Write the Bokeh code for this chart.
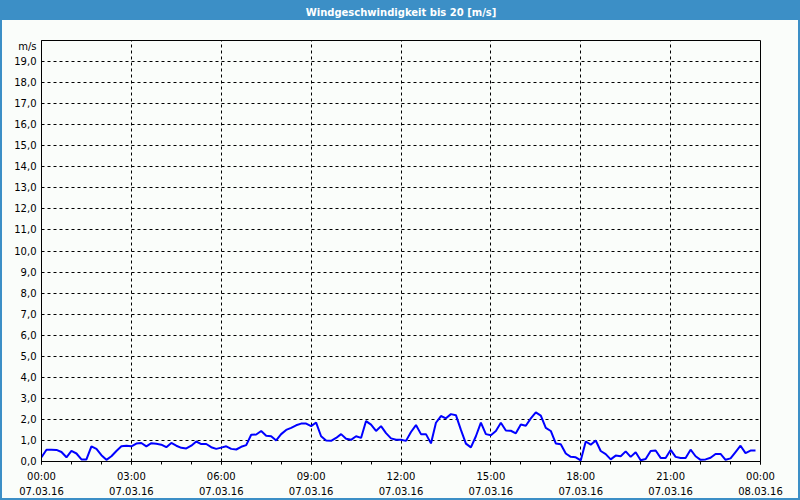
from bokeh.plotting import figure
from bokeh.models import FixedTicker, Range1d, LinearAxis
from bokeh.embed import file_html
from bokeh.resources import INLINE

title_text = "Windgeschwindigkeit bis 20 [m/s]"
unit_label = "m/s"

# wind speed (m/s), one value every 10 minutes, 07.03.16 00:00 .. 23:50
speeds = [
    0.20, 0.56, 0.56, 0.55, 0.45, 0.20, 0.50, 0.38, 0.10, 0.10, 0.72, 0.60,
    0.30, 0.08, 0.25, 0.50, 0.72, 0.75, 0.72, 0.85, 0.88, 0.72, 0.87, 0.84,
    0.80, 0.68, 0.88, 0.75, 0.65, 0.62, 0.75, 0.95, 0.83, 0.83, 0.68, 0.60,
    0.66, 0.72, 0.60, 0.57, 0.70, 0.78, 1.27, 1.28, 1.45, 1.22, 1.20, 1.00,
    1.30, 1.50, 1.60, 1.72, 1.80, 1.80, 1.68, 1.85, 1.20, 1.00, 0.98, 1.12,
    1.30, 1.08, 1.03, 1.20, 1.12, 1.92, 1.75, 1.45, 1.68, 1.35, 1.10, 1.03,
    1.03, 0.98, 1.40, 1.73, 1.30, 1.30, 0.86, 1.84, 2.16, 2.05, 2.25, 2.20,
    1.50, 0.85, 0.67, 1.20, 1.85, 1.30, 1.25, 1.45, 1.84, 1.47, 1.46, 1.34,
    1.76, 1.70, 2.05, 2.33, 2.18, 1.60, 1.45, 0.86, 0.82, 0.38, 0.22, 0.20,
    0.05, 0.95, 0.80, 1.00, 0.50, 0.35, 0.10, 0.28, 0.25, 0.48, 0.22, 0.44,
    0.06, 0.12, 0.50, 0.52, 0.17, 0.17, 0.55, 0.22, 0.17, 0.17, 0.56, 0.25,
    0.08, 0.10, 0.18, 0.36, 0.36, 0.08, 0.15, 0.45, 0.75, 0.40, 0.52, 0.52,
]
step_minutes = 10
hours = [i * step_minutes / 60 for i in range(len(speeds))]

x_ticks = [0, 3, 6, 9, 12, 15, 18, 21, 24]
x_tick_labels = ["00:00\n07.03.16", "03:00\n07.03.16", "06:00\n07.03.16",
                 "09:00\n07.03.16", "12:00\n07.03.16", "15:00\n07.03.16",
                 "18:00\n07.03.16", "21:00\n07.03.16", "00:00\n08.03.16"]
x_minor = list(range(0, 25))
y_ticks = list(range(0, 20))
y_tick_labels = [f"{v},0" for v in y_ticks]
unit_tick = 19.7  # position of the "m/s" caption on the value axis

BLUE = "#3C8FC6"
BG = "#FAFDFA"
FONT = "DejaVu Sans"

p = figure(width=800, height=500, output_backend="svg", toolbar_location=None,
           x_range=Range1d(0, 24), y_range=Range1d(0, 20),
           min_border_left=41, min_border_right=40, min_border_top=40,
           min_border_bottom=39)
# page frame: blue title bar across the top and a thin blue edge all round
p.styles = {
    "background": f"linear-gradient(to bottom, {BLUE} 0px, {BLUE} 20px, {BG} 20px, {BG} 100%)",
    "box-shadow": f"inset 0 0 0 2px {BLUE}",
}
p.background_fill_color = BG
p.border_fill_alpha = 0
p.outline_line_color = "black"
p.outline_line_width = 1

p.line(hours, speeds, line_color="#0000FF", line_width=2)

# axes
xa = p.xaxis[0]
xa.ticker = FixedTicker(ticks=x_ticks, minor_ticks=x_minor)
xa.major_label_overrides = {t: l for t, l in zip(x_ticks, x_tick_labels)}
xa.major_tick_out = 3
xa.major_tick_in = 0
xa.minor_tick_out = 3
xa.minor_tick_in = 0
xa.major_label_standoff = 6
xa.major_label_text_font = FONT
xa.major_label_text_font_size = "10px"
xa.major_label_text_color = "black"
xa.major_label_text_line_height = 1.4
xa.axis_line_color = "black"

ya = p.yaxis[0]
ya.ticker = FixedTicker(ticks=y_ticks + [unit_tick], minor_ticks=[])
overrides = {t: l for t, l in zip(y_ticks, y_tick_labels)}
overrides[unit_tick] = unit_label
ya.major_label_overrides = overrides
ya.major_tick_out = 0
ya.major_tick_in = 0
ya.minor_tick_out = 0
ya.minor_tick_in = 0
ya.major_label_standoff = 5
ya.major_label_text_font = FONT
ya.major_label_text_font_size = "10px"
ya.major_label_text_color = "black"
ya.axis_line_color = "black"

# chart caption carried by a tick-less axis along the top edge
top_axis = LinearAxis(ticker=FixedTicker(ticks=[], minor_ticks=[]),
                      axis_label=title_text, axis_label_standoff=23,
                      axis_label_text_font=FONT, axis_label_text_font_size="10px",
                      axis_label_text_font_style="bold",
                      axis_label_text_color="white",
                      axis_line_alpha=0, major_tick_out=0, major_tick_in=0,
                      minor_tick_out=0, minor_tick_in=0,
                      major_label_text_font_size="0px")
p.add_layout(top_axis, "above")

for g in (p.xgrid[0], p.ygrid[0]):
    g.grid_line_color = "black"
    g.grid_line_dash = "3 3"
    g.grid_line_width = 1
p.xgrid[0].ticker = FixedTicker(ticks=x_ticks[1:-1])
p.ygrid[0].ticker = FixedTicker(ticks=y_ticks[1:])

open("out.html", "w").write(file_html(p, INLINE))
